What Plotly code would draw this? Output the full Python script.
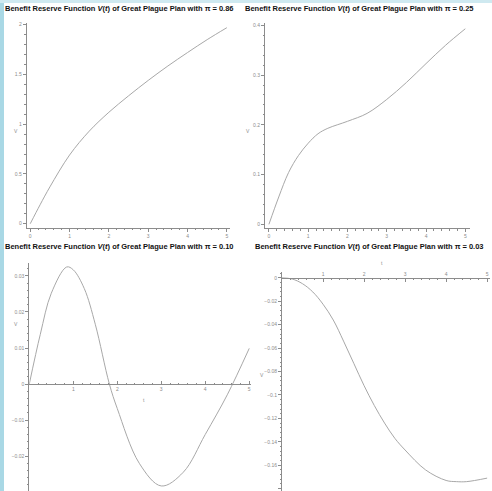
import plotly.graph_objects as go

# ---------------- data ----------------
t1 = [0, 0.25, 0.5, 1, 1.5, 2, 2.5, 3, 3.5, 4, 4.5, 5]
v1 = [0, 0.19, 0.37, 0.69, 0.93, 1.12, 1.285, 1.44, 1.585, 1.72, 1.85, 1.97]

t2 = [0, 0.25, 0.5, 0.75, 1, 1.25, 1.5, 2, 2.5, 3, 3.5, 4, 4.5, 5]
v2 = [0, 0.055, 0.104, 0.138, 0.163, 0.182, 0.193, 0.207, 0.223, 0.251, 0.285, 0.323, 0.36, 0.393]

t3 = [0, 0.25, 0.5, 0.85, 1.0, 1.25, 1.5, 1.82, 2.0, 2.5, 3.0, 3.5, 4.0, 4.5, 5.0]
v3 = [0, 0.0138, 0.0252, 0.0325, 0.0317, 0.0265, 0.0166, 0, -0.0068, -0.0220, -0.0283, -0.0245, -0.0140, -0.0030, 0.0099]

t4 = [0, 0.25, 0.5, 0.75, 1, 1.25, 1.5, 1.75, 2, 2.25, 2.5, 2.75, 3, 3.5, 4, 4.25, 4.5, 5]
v4 = [0, -0.001, -0.005, -0.012, -0.0225, -0.036, -0.054, -0.073, -0.092, -0.109, -0.124, -0.137, -0.147, -0.164, -0.173, -0.174, -0.174, -0.171]

pis = ["0.86", "0.25", "0.10", "0.03"]

W, H = 492, 491
def fx(px): return px / W
def fy(py): return 1 - py / H

AX = "#8c8c8c"
LINE = "#a8a8a8"
TF = dict(family="Liberation Sans", size=5, color="#8c8c8c")

fig = go.Figure()
for i, (t, v) in enumerate([(t1, v1), (t2, v2), (t3, v3), (t4, v4)]):
    sfx = "" if i == 0 else str(i + 1)
    fig.add_trace(go.Scatter(x=t, y=v, mode="lines", xaxis="x" + sfx, yaxis="y" + sfx,
                             line=dict(color=LINE, width=1, shape="spline", smoothing=1.0),
                             showlegend=False, hoverinfo="skip"))

def axis_common(**kw):
    d = dict(showgrid=False, zeroline=False, showline=True, linecolor=AX, linewidth=1,
             ticks="outside", ticklen=3, tickcolor=AX, tickwidth=1, tickfont=TF, fixedrange=True)
    d.update(kw)
    return d

# panel geometry (pixels)
p1 = dict(x=(26.7, 230), y=(22.7, 227.7), xr=[-0.09, 5.08], yr=[-0.04, 2.02])
p2 = dict(x=(265, 470), y=(23.3, 228.3), xr=[-0.1, 5.12], yr=[-0.008, 0.404])
p3 = dict(x=(29.3, 251), y=(263, 491), xr=[0, 5.04], yr=[-0.0297, 0.0336])
p4 = dict(x=(282, 490), y=(272, 491), xr=[0, 5.07], yr=[-0.182, 0.005])

def ydom(p): return [fy(p["y"][1]), fy(p["y"][0])]
def xdom(p): return [fx(p["x"][0]), fx(p["x"][1])]
def zero_pos(p):
    y0, y1 = ydom(p)
    lo, hi = p["yr"]
    return y0 + (0 - lo) / (hi - lo) * (y1 - y0)

minor_x = dict(ticks="outside", ticklen=1.5, tickcolor=AX, dtick=0.2, tick0=0, showgrid=False)

fig.update_layout(
    xaxis=axis_common(domain=xdom(p1), range=p1["xr"], anchor="y", tickmode="linear", tick0=0, dtick=1, minor=minor_x),
    yaxis=axis_common(domain=ydom(p1), range=p1["yr"], anchor="x", tickmode="linear", tick0=0, dtick=0.5,
                      minor=dict(ticks="outside", ticklen=1.5, tickcolor=AX, dtick=0.1, tick0=0)),
    xaxis2=axis_common(domain=xdom(p2), range=p2["xr"], anchor="y2", tickmode="linear", tick0=0, dtick=1, minor=minor_x),
    yaxis2=axis_common(domain=ydom(p2), range=p2["yr"], anchor="x2", tickmode="linear", tick0=0, dtick=0.1,
                       minor=dict(ticks="outside", ticklen=1.5, tickcolor=AX, dtick=0.02, tick0=0)),
    xaxis3=axis_common(domain=xdom(p3), range=p3["xr"], anchor="free", position=zero_pos(p3),
                       tickmode="array", tickvals=[1, 2, 3, 4, 5], ticks="inside", minor=dict(minor_x, ticks="inside")),
    yaxis3=axis_common(domain=ydom(p3), range=p3["yr"], anchor="x3", tickmode="linear", tick0=0, dtick=0.01,
                       minor=dict(ticks="outside", ticklen=1.5, tickcolor=AX, dtick=0.002, tick0=0)),
    xaxis4=axis_common(domain=xdom(p4), range=p4["xr"], anchor="free", position=zero_pos(p4), side="top",
                       tickmode="array", tickvals=[1, 2, 3, 4, 5], ticks="inside", minor=dict(minor_x, ticks="inside")),
    yaxis4=axis_common(domain=ydom(p4), range=p4["yr"], anchor="x4", tickmode="linear", tick0=0, dtick=0.02,
                       minor=dict(ticks="outside", ticklen=1.5, tickcolor=AX, dtick=0.004, tick0=0)),
    width=W, height=H, margin=dict(l=0, r=0, t=0, b=0),
    paper_bgcolor="white", plot_bgcolor="rgba(0,0,0,0)",
)

# titles
title_pos = [(4, 9), (244, 9), (4, 246.5), (254, 246.5)]
for (px, py), pv in zip(title_pos, pis):
    fig.add_annotation(x=fx(px), y=fy(py), xref="paper", yref="paper", xanchor="left", yanchor="middle",
                       showarrow=False, borderpad=0,
                       text="<b>Benefit Reserve Function <i>V</i>(<i>t</i>) of Great Plague Plan with π = " + pv + "</b>",
                       font=dict(family="Liberation Sans", size=7.5, color="#111111"))

# axis labels
labels = [("V", 11.7, 126), ("V", 248, 126), ("V", 12, 324), ("t", 141, 405), ("t", 385, 263), ("V", 262, 380)]
for txt, px, py in labels:
    fig.add_annotation(x=fx(px), y=fy(py), xref="paper", yref="paper", showarrow=False, text=txt,
                       font=dict(family="Liberation Sans", size=5, color="#8c8c8c"))

# background decoration (slide edge)
fig.add_shape(type="rect", xref="paper", yref="paper", x0=0, x1=fx(4), y0=0, y1=1,
              fillcolor="#a9d8e5", line_width=0, layer="below")
fig.add_shape(type="rect", xref="paper", yref="paper", x0=0, x1=1, y0=fy(3), y1=1,
              fillcolor="#cfe9f0", line_width=0, layer="below")

fig.write_html("out.html", config={"displayModeBar": False},
               post_script="document.body.style.margin='0px';document.body.style.overflow='hidden';")
